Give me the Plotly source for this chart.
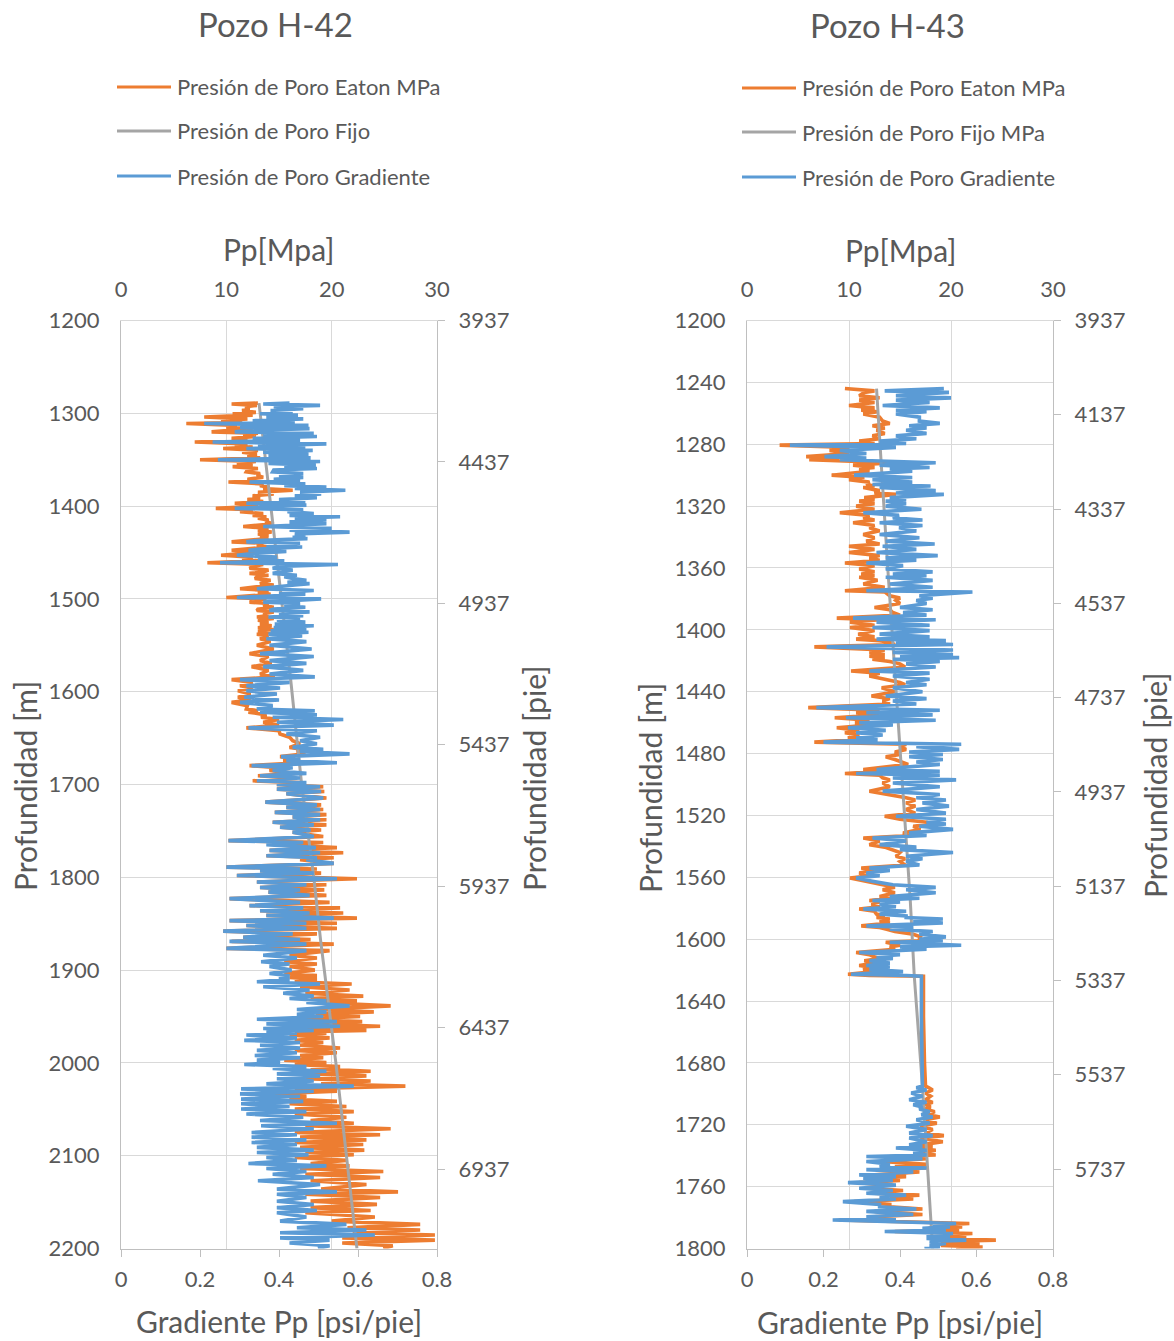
import plotly.graph_objects as go

# ---------------- Pozo H-42 (values in MPa vs depth in m) ----------------
h42_depth = [
    1289, 1290, 1291.5, 1293, 1295, 1297, 1299, 1300.5, 1302, 1304,
    1306, 1308, 1310, 1311, 1313, 1315, 1316.5, 1318.5, 1320, 1321.5,
    1323, 1325, 1327, 1329, 1331, 1333, 1335, 1336.5, 1338, 1340,
    1342, 1344, 1346, 1348, 1350, 1352, 1354, 1356, 1357.5, 1359.5,
    1361, 1363, 1365, 1367, 1369, 1371, 1373, 1374, 1376, 1378,
    1379.5, 1381, 1383, 1385, 1387, 1389, 1391, 1393, 1395, 1397,
    1399, 1401, 1402.5, 1404, 1406, 1408, 1410, 1411.5, 1413, 1415,
    1417, 1419, 1421, 1422, 1424, 1426, 1428, 1430, 1432, 1433.5,
    1435, 1437, 1438.5, 1440, 1442, 1444, 1446, 1447.5, 1449, 1451,
    1453, 1455, 1457, 1459, 1461, 1463, 1465, 1467, 1469, 1471,
    1472.5, 1474.5, 1476, 1478, 1480, 1482, 1483.5, 1485, 1487, 1489,
    1491, 1493, 1495, 1497, 1498.5, 1500, 1502, 1503.5, 1505, 1507,
    1509, 1511, 1512.5, 1514, 1516, 1518, 1519.5, 1521, 1523, 1525,
    1527, 1529, 1531, 1533, 1534.5, 1536, 1538, 1540, 1543, 1546,
    1550, 1554, 1559, 1562, 1566.5, 1569.5, 1573, 1577, 1581, 1584,
    1587, 1590, 1593.5, 1596, 1599, 1602.5, 1606, 1609, 1611.5, 1615,
    1618.7, 1620.5, 1622, 1625, 1627.6, 1630, 1633, 1636, 1639, 1642,
    1645.6, 1649, 1652.8, 1656, 1660, 1662, 1664.6, 1667, 1670, 1672,
    1674, 1676.5, 1679.7, 1682, 1685, 1688, 1690.5, 1693, 1696, 1698,
    1700, 1702.5, 1705, 1707.5, 1710, 1714.5, 1719, 1722, 1724.6, 1727,
    1730, 1732.5, 1735, 1738, 1740.7, 1743.5, 1746, 1749, 1751.5, 1756,
    1760.5, 1762.5, 1764.8, 1768, 1771, 1773.5, 1776.7, 1779, 1781, 1785,
    1789, 1791, 1793, 1795.5, 1798, 1801.5, 1805, 1808, 1811, 1813.5,
    1816, 1819.5, 1823, 1827, 1830.5, 1833, 1836, 1838.5, 1841, 1844,
    1846.7, 1849.5, 1852, 1855, 1858, 1861, 1864.6, 1867, 1869, 1872,
    1876.6, 1879, 1884, 1887, 1891, 1893.5, 1896, 1900, 1903.6, 1906,
    1908, 1910, 1912.6, 1915, 1918, 1921.5, 1925, 1928, 1930.6, 1933,
    1935, 1938.5, 1942.5, 1945, 1947.6, 1950, 1953, 1955.5, 1958, 1960.5,
    1963, 1965, 1966.7, 1968, 1970, 1973, 1975.7, 1978, 1981, 1984,
    1986.5, 1989, 1992, 1994.5, 1997, 1999.5, 2001.7, 2004, 2006, 2009,
    2011.8, 2014, 2017, 2019.5, 2022.6, 2025, 2028, 2030.5, 2033.4, 2036,
    2039, 2041.5, 2044, 2047, 2049.7, 2052.5, 2055, 2058.5, 2062, 2065,
    2067.7, 2071, 2075, 2077.5, 2080, 2083, 2085.7, 2088, 2091, 2094,
    2096.5, 2099, 2102, 2105, 2108.4, 2111, 2113.8, 2117, 2120, 2123.5,
    2127, 2131, 2136, 2139, 2141.6, 2145, 2149, 2152.5, 2156, 2159,
    2161.5, 2166, 2170.5, 2174, 2177.7, 2180, 2183, 2185.5, 2188.5, 2191,
    2194, 2197, 2200,
]
h42_eaton = [
    13.0, 10.5, 12.9, 11.8, 12.2, 11.5, 12.8, 10.6, 12.5, 7.9,
    12.0, 9.5, 11.5, 6.2, 11.0, 10.0, 12.5, 9.8, 8.6, 13.0,
    11.6, 12.8, 10.5, 12.0, 7.0, 12.0, 10.8, 12.5, 9.7, 13.0,
    11.5, 12.9, 12.0, 13.2, 7.5, 12.8, 11.0, 12.5, 10.6, 13.0,
    12.0, 11.9, 13.2, 12.9, 13.5, 12.0, 13.0, 10.2, 13.5, 13.2,
    14.0, 13.5, 16.3, 13.0, 14.5, 12.5, 13.2, 12.0, 13.5, 10.8,
    13.0, 11.5, 9.0, 12.5, 11.3, 13.5, 12.5, 13.8, 13.0, 14.0,
    13.7, 14.5, 12.5, 11.6, 14.0, 13.0, 14.3, 13.0, 14.0, 13.2,
    14.0, 12.0, 10.5, 13.5, 12.9, 14.0, 12.0, 10.5, 13.5, 11.0,
    9.5, 12.5, 11.5, 13.0, 8.2, 13.5, 12.5, 12.2, 14.0, 13.5,
    12.2, 14.0, 13.0, 12.7, 14.2, 13.5, 13.2, 14.5, 12.5, 11.3,
    14.0, 13.0, 14.2, 12.0, 10.0, 13.8, 13.0, 12.2, 14.0, 13.5,
    14.5, 13.0, 12.9, 14.5, 13.5, 14.0, 12.9, 14.5, 13.0, 14.0,
    13.2, 14.3, 13.0, 14.5, 13.0, 14.2, 12.9, 14.0, 13.2, 14.2,
    12.9, 14.5, 12.2, 14.0, 13.2, 14.3, 12.4, 14.0, 13.2, 14.6,
    10.5, 12.5, 11.3, 12.5, 11.1, 12.3, 11.1, 12.3, 10.5, 12.0,
    11.9, 13.0, 12.1, 13.8, 13.3, 15.0, 13.5, 15.0, 11.9, 15.0,
    15.1, 16.0, 16.3, 17.0, 16.0, 17.2, 16.7, 17.5, 15.1, 16.5,
    15.4, 17.0, 12.2, 15.0, 14.1, 16.5, 13.0, 16.0, 12.5, 17.0,
    14.8, 19.2, 14.8, 19.3, 15.7, 19.5, 13.7, 19.0, 15.7, 19.2,
    14.6, 19.5, 16.3, 19.5, 14.4, 19.5, 15.1, 19.0, 16.3, 19.2,
    10.2, 19.2, 14.5, 20.5, 14.1, 21.1, 13.8, 20.2, 17.0, 20.2,
    10.0, 18.6, 13.2, 19.0, 11.0, 22.4, 12.9, 19.5, 13.2, 19.3,
    14.0, 19.5, 10.3, 19.8, 12.2, 20.8, 13.2, 21.1, 13.8, 22.4,
    10.3, 20.5, 11.9, 20.5, 9.7, 18.6, 11.6, 18.0, 10.5, 20.2,
    10.0, 19.8, 16.0, 18.6, 15.5, 18.6, 16.0, 18.4, 15.5, 18.6,
    16.0, 18.6, 16.5, 21.9, 17.0, 21.7, 17.5, 23.0, 18.0, 22.4,
    19.0, 25.6, 18.5, 24.0, 18.5, 22.7, 17.0, 22.9, 18.0, 24.6,
    17.5, 23.3, 16.5, 19.5, 16.0, 19.8, 16.5, 19.2, 17.0, 20.8,
    16.5, 20.5, 17.0, 19.2, 15.5, 19.5, 16.5, 20.8, 18.0, 23.7,
    18.0, 23.3, 17.5, 23.7, 19.0, 27.0, 16.5, 20.5, 14.1, 17.6,
    16.0, 20.5, 16.0, 21.4, 16.5, 22.1, 16.5, 21.4, 18.0, 22.1,
    17.5, 25.6, 16.5, 24.6, 17.0, 23.3, 16.5, 23.0, 17.0, 23.1,
    17.5, 22.1, 16.5, 21.4, 18.0, 21.7, 17.0, 24.9, 17.5, 24.6,
    18.0, 23.3, 19.0, 26.3, 17.5, 24.6, 18.0, 24.3, 18.0, 23.7,
    17.5, 24.1, 20.0, 28.4, 21.5, 28.4, 22.0, 29.8, 21.0, 29.8,
    21.0, 25.8, 24.9,
]
h42_gradiente = [
    16.0, 13.5, 18.9, 14.5, 17.3, 14.2, 16.3, 13.2, 16.8, 13.8,
    17.3, 12.5, 16.5, 7.9, 17.8, 11.3, 17.9, 12.0, 10.8, 18.3,
    13.5, 18.6, 12.5, 17.0, 8.7, 19.5, 13.0, 17.5, 11.9, 18.2,
    13.5, 17.8, 14.0, 18.0, 9.2, 18.9, 14.0, 18.5, 15.5, 18.6,
    14.5, 14.4, 17.3, 15.0, 17.3, 14.5, 17.0, 12.2, 17.5, 15.5,
    19.5, 16.5, 21.3, 17.0, 19.0, 16.5, 18.6, 15.0, 17.5, 11.9,
    17.6, 13.0, 10.8, 17.3, 15.8, 18.3, 16.0, 20.8, 16.5, 19.5,
    16.0, 19.5, 14.5, 13.5, 20.0, 16.0, 21.7, 16.5, 17.5, 16.3,
    17.7, 13.0, 11.9, 17.0, 13.8, 17.2, 13.5, 12.1, 15.7, 12.5,
    11.0, 14.8, 13.0, 15.5, 9.4, 20.6, 15.0, 14.4, 16.3, 15.0,
    14.4, 16.7, 15.5, 16.3, 17.6, 15.8, 17.9, 16.5, 14.5, 12.9,
    18.3, 15.0, 17.5, 13.5, 11.0, 19.0, 15.0, 13.5, 17.0, 15.5,
    17.5, 14.5, 14.1, 17.9, 15.0, 17.3, 14.0, 17.0, 14.8, 17.5,
    14.6, 18.3, 14.5, 17.6, 14.2, 17.8, 14.0, 17.2, 13.8, 17.6,
    14.1, 18.1, 13.2, 18.3, 14.1, 17.6, 13.5, 17.3, 14.1, 18.4,
    11.3, 16.0, 11.9, 15.1, 11.9, 14.8, 11.7, 15.0, 11.3, 14.4,
    12.9, 18.4, 13.2, 18.6, 14.4, 21.1, 14.8, 20.2, 12.1, 18.6,
    15.7, 18.9, 17.0, 18.6, 16.3, 19.2, 17.0, 21.7, 15.2, 17.0,
    15.7, 20.5, 12.4, 16.3, 14.4, 17.6, 13.2, 17.0, 12.9, 17.6,
    14.8, 18.9, 14.8, 19.0, 15.7, 19.2, 13.7, 18.6, 15.7, 18.9,
    14.6, 18.9, 16.3, 18.9, 14.4, 18.3, 15.1, 18.0, 16.3, 18.3,
    10.2, 17.3, 13.8, 18.5, 14.1, 18.9, 13.8, 18.6, 17.6, 20.2,
    10.0, 17.0, 13.2, 18.3, 11.0, 20.5, 12.9, 17.6, 13.2, 17.0,
    14.0, 17.9, 10.3, 17.0, 12.2, 17.3, 13.2, 17.9, 13.8, 20.2,
    10.3, 17.6, 11.9, 17.6, 9.7, 16.3, 11.6, 17.0, 10.3, 17.6,
    10.0, 17.6, 13.5, 16.7, 13.3, 16.0, 14.1, 16.2, 14.1, 16.0,
    15.0, 16.0, 12.9, 18.9, 13.5, 17.9, 15.4, 18.3, 16.0, 19.5,
    17.6, 21.7, 16.7, 19.5, 16.7, 19.2, 12.9, 20.5, 13.8, 20.8,
    13.5, 18.3, 13.8, 16.7, 11.9, 16.7, 11.7, 17.0, 13.2, 17.0,
    12.9, 16.7, 12.7, 17.0, 12.9, 15.1, 11.7, 17.6, 14.4, 19.5,
    14.8, 18.9, 14.8, 18.3, 13.8, 22.1, 11.4, 18.3, 11.3, 17.0,
    11.4, 17.3, 11.4, 16.0, 11.4, 17.6, 11.9, 17.3, 13.2, 20.5,
    13.3, 18.3, 12.4, 16.7, 12.4, 17.6, 12.4, 16.7, 12.9, 18.3,
    12.9, 17.8, 13.8, 16.7, 12.1, 19.5, 13.8, 17.6, 14.4, 18.3,
    13.0, 18.9, 14.8, 20.5, 14.8, 17.6, 14.8, 18.3, 14.8, 18.6,
    14.8, 17.6, 15.1, 21.4, 16.7, 23.3, 15.1, 24.1, 15.1, 19.8,
    16.0, 19.8, 18.7,
]
h42_fijo_depth = [1289, 1458, 1537, 1586, 1700, 1800, 1868, 2000, 2100, 2200]
h42_fijo = [13.1, 14.8, 15.6, 16.1, 17.15, 18.3, 18.95, 20.4, 21.4, 22.4]

# ---------------- Pozo H-43 ----------------
h43_depth = [
    1244.0, 1245.5, 1246.5, 1248.6, 1250, 1251.5, 1253, 1255, 1256.5, 1258,
    1259, 1260.5, 1262.5, 1265, 1266.5, 1268, 1269.5, 1271, 1273, 1274.6,
    1276.5, 1278, 1279.5, 1280.6, 1282, 1284, 1286, 1288, 1289, 1290,
    1292, 1293.5, 1295, 1296, 1297.5, 1300, 1301.5, 1303, 1304.5, 1306,
    1307, 1308, 1310, 1311.5, 1312.4, 1314.5, 1316, 1316.8, 1318.5, 1320,
    1322, 1324.3, 1326, 1327.6, 1329, 1330.8, 1332.5, 1334, 1336, 1338.4,
    1340.5, 1342.7, 1344.5, 1346, 1348, 1350, 1352, 1353.5, 1355, 1356.8,
    1358.5, 1360.7, 1362.5, 1364, 1365, 1366, 1368, 1370.4, 1372.5, 1374.7,
    1375.5, 1378, 1379.5, 1381, 1383, 1385.5, 1387, 1388.8, 1390.5, 1392.4,
    1393.5, 1395, 1397, 1398.5, 1400.5, 1402.8, 1404.5, 1406, 1407, 1408,
    1409.5, 1411, 1413, 1414.7, 1416, 1417, 1418, 1419, 1420.5, 1422,
    1424, 1426.6, 1428, 1429.8, 1432, 1434, 1435.5, 1437.4, 1440, 1442.8,
    1444.5, 1446, 1448, 1450.3, 1452, 1453.6, 1455, 1456.8, 1458.5, 1460,
    1461.5, 1463.3, 1465, 1466.5, 1468, 1469.8, 1471, 1472.6, 1474, 1475.5,
    1477.3, 1479, 1480.6, 1482, 1483.8, 1485.5, 1487, 1490.3, 1491.5, 1492.9,
    1494, 1495.7, 1497, 1499, 1501.5, 1504.3, 1506.5, 1508.6, 1510, 1511.9,
    1514, 1516.2, 1518.5, 1520.5, 1522.5, 1524.4, 1525.5, 1527, 1529, 1531.3,
    1533, 1534.6, 1536.5, 1538.9, 1540.5, 1542.1, 1544, 1546.4, 1548, 1549.7,
    1552, 1554, 1555.5, 1557.2, 1559, 1560.5, 1562.5, 1564.8, 1566.5, 1568,
    1570, 1572.4, 1573.5, 1575, 1576, 1577.3, 1579, 1580.5, 1582, 1583.8,
    1585, 1586, 1587, 1588, 1589.5, 1591.4, 1592.5, 1593.5, 1595, 1596.8,
    1598.5, 1600, 1601, 1602, 1603.9, 1605, 1606.5, 1608.6, 1610, 1611,
    1612.5, 1614, 1615.5, 1617, 1618, 1619.5, 1621, 1622.7, 1623.5, 1624,
    1650, 1680, 1695, 1696, 1697.5, 1699.5, 1701.5, 1703.8, 1705.5, 1707,
    1708.5, 1709.8, 1711.5, 1713.5, 1715, 1716.8, 1719, 1721, 1723, 1725.4,
    1727, 1728.6, 1731, 1733, 1734, 1735, 1736.5, 1738.4, 1739.5, 1740.5,
    1742, 1743.8, 1745.5, 1747, 1748, 1749, 1750.5, 1752.4, 1753.5, 1754.6,
    1756, 1757.4, 1759, 1761, 1762.5, 1764.3, 1765.5, 1766.5, 1768, 1769.7,
    1771.5, 1773, 1774.5, 1776, 1778, 1779.5, 1780.5, 1781.6, 1783.8, 1785,
    1786, 1787, 1788, 1789, 1790.3, 1791.5, 1792.4, 1793.5, 1794.6, 1795.5,
    1796.8, 1798, 1799, 1800,
]
h43_eaton = [
    9.6, 12.5, 11.5, 11.0, 13.0, 11.0, 12.5, 10.0, 12.5, 11.2,
    12.8, 11.4, 13.0, 13.3, 14.0, 12.3, 13.5, 12.7, 13.5, 12.3,
    13.0, 11.0, 12.5, 3.2, 10.0, 8.1, 10.0, 5.8, 9.0, 6.1,
    14.3, 10.4, 12.5, 11.0, 12.0, 8.3, 11.5, 10.0, 12.0, 11.7,
    12.5, 11.4, 13.0, 12.5, 14.6, 11.5, 12.5, 11.0, 12.5, 10.7,
    12.5, 9.1, 12.0, 11.4, 12.5, 10.4, 12.5, 12.0, 13.0, 11.4,
    12.5, 11.7, 13.0, 10.0, 12.5, 10.0, 13.0, 12.0, 13.0, 9.6,
    12.5, 11.0, 12.5, 11.2, 12.5, 11.0, 12.8, 11.4, 13.5, 9.6,
    13.5, 14.0, 15.0, 14.6, 15.0, 12.5, 14.0, 14.3, 15.0, 8.8,
    13.0, 10.1, 12.5, 10.1, 12.5, 10.9, 12.5, 10.7, 13.0, 14.0,
    14.5, 6.6, 13.5, 12.0, 13.5, 12.0, 13.5, 12.3, 14.0, 15.0,
    15.5, 10.2, 13.0, 12.0, 13.5, 15.0, 15.5, 13.2, 14.5, 12.2,
    14.0, 13.3, 14.0, 6.0, 13.0, 10.7, 13.0, 8.6, 12.0, 10.6,
    12.0, 8.8, 11.0, 9.6, 11.0, 9.9, 11.0, 6.6, 15.6, 15.0,
    15.6, 14.5, 15.0, 13.6, 14.5, 15.3, 15.8, 11.4, 13.0, 9.6,
    13.0, 13.3, 14.0, 13.3, 14.0, 12.0, 14.0, 15.6, 16.5, 15.6,
    16.5, 15.6, 16.5, 13.5, 15.0, 17.6, 18.0, 16.3, 17.0, 15.3,
    16.0, 11.4, 13.0, 12.0, 13.5, 14.3, 15.0, 14.6, 15.5, 15.0,
    15.5, 11.2, 12.5, 11.0, 12.0, 10.1, 11.5, 13.3, 14.5, 13.3,
    14.5, 13.0, 14.0, 12.0, 13.0, 12.2, 13.0, 11.0, 12.5, 12.7,
    13.5, 12.7, 14.0, 13.0, 14.0, 11.2, 13.0, 13.6, 14.5, 16.3,
    17.0, 16.9, 17.0, 13.6, 15.0, 14.0, 14.5, 10.7, 12.0, 12.3,
    13.0, 11.5, 12.5, 11.0, 12.0, 11.4, 12.5, 9.9, 12.0, 17.3,
    17.3, 17.4, 17.5, 17.8, 18.2, 17.5, 18.0, 17.5, 18.2, 17.5,
    18.0, 17.5, 18.4, 17.8, 18.9, 17.5, 18.6, 17.0, 18.2, 17.5,
    19.3, 17.0, 19.2, 17.0, 18.2, 16.5, 18.5, 17.0, 18.5, 14.0,
    17.6, 13.5, 17.6, 14.5, 17.6, 14.0, 16.9, 12.5, 15.6, 12.5,
    15.0, 11.0, 13.6, 12.0, 15.3, 12.5, 16.9, 14.0, 16.3, 10.5,
    14.0, 14.0, 17.2, 12.5, 17.2, 12.5, 14.6, 9.0, 21.8, 18.5,
    21.1, 17.8, 20.8, 14.5, 22.1, 18.5, 21.5, 18.5, 24.4, 19.0,
    22.8, 19.0, 23.1, 20.5,
]
h43_gradiente = [
    19.3, 13.5, 19.8, 14.6, 20.0, 14.6, 17.9, 13.3, 18.9, 14.6,
    17.6, 14.6, 16.9, 16.9, 18.9, 15.9, 17.6, 15.6, 17.6, 14.6,
    16.6, 13.0, 15.6, 4.2, 14.6, 9.1, 11.7, 7.6, 11.7, 9.1,
    18.5, 13.0, 17.9, 14.0, 16.2, 10.5, 16.2, 12.3, 16.2, 12.3,
    18.0, 13.0, 18.5, 14.6, 19.3, 14.0, 15.6, 13.6, 15.6, 13.6,
    17.1, 11.4, 14.9, 14.3, 17.2, 13.0, 17.2, 14.9, 16.6, 13.0,
    16.9, 13.6, 18.4, 13.3, 16.6, 12.7, 18.7, 13.6, 16.6, 11.7,
    15.3, 13.6, 18.2, 14.3, 17.6, 13.6, 18.2, 14.0, 18.2, 11.7,
    22.1, 16.9, 18.2, 16.6, 17.6, 15.0, 18.2, 15.3, 17.6, 10.4,
    18.5, 12.7, 17.9, 12.3, 17.9, 13.0, 17.9, 12.7, 19.5, 14.6,
    20.2, 7.8, 20.2, 14.3, 20.2, 15.0, 20.8, 14.3, 18.9, 15.6,
    18.5, 12.0, 17.9, 14.3, 17.9, 15.6, 17.6, 14.3, 17.2, 13.6,
    17.6, 14.3, 16.6, 6.8, 18.9, 11.7, 18.2, 9.7, 18.5, 11.0,
    14.3, 9.9, 13.6, 10.7, 13.3, 10.7, 12.8, 7.5, 21.0, 16.6,
    20.8, 15.9, 19.2, 15.9, 19.2, 16.6, 18.9, 12.7, 18.9, 10.7,
    18.9, 14.3, 20.5, 14.3, 18.9, 13.3, 18.9, 16.6, 19.5, 17.2,
    19.8, 16.6, 19.5, 14.6, 19.5, 17.6, 19.5, 16.9, 20.2, 15.9,
    17.6, 12.3, 15.6, 13.0, 16.6, 15.0, 20.2, 15.6, 17.2, 15.6,
    16.9, 12.0, 14.0, 11.7, 13.0, 10.7, 12.3, 14.3, 18.5, 15.6,
    18.5, 14.0, 16.9, 12.3, 15.0, 13.0, 14.6, 11.4, 15.6, 13.0,
    15.6, 15.6, 19.2, 16.3, 19.2, 11.7, 16.3, 14.0, 18.2, 16.9,
    19.5, 16.9, 19.2, 14.0, 21.0, 15.0, 17.6, 11.0, 15.0, 12.7,
    14.3, 12.0, 14.0, 11.7, 14.0, 12.0, 15.3, 10.2, 15.6, 17.1,
    17.1, 17.2, 17.2, 16.6, 17.6, 16.1, 17.2, 15.9, 17.6, 16.3,
    17.2, 16.9, 17.9, 17.1, 18.2, 16.6, 17.9, 15.6, 17.6, 15.9,
    18.2, 15.9, 17.6, 15.9, 17.2, 14.6, 17.6, 16.3, 17.6, 11.7,
    17.2, 11.7, 14.0, 13.0, 17.6, 11.7, 16.3, 11.0, 14.6, 11.4,
    14.3, 9.9, 14.6, 11.0, 14.3, 11.7, 15.6, 13.0, 14.6, 9.4,
    13.0, 13.0, 16.6, 11.7, 16.3, 11.7, 14.6, 8.4, 20.5, 18.2,
    19.9, 17.2, 19.5, 13.5, 20.2, 17.6, 19.9, 17.6, 21.5, 17.9,
    19.5, 17.9, 18.9, 17.4,
]
h43_fijo_depth = [1244, 1360, 1574, 1624, 1695, 1782, 1800]
h43_fijo = [12.7, 13.8, 16.0, 16.4, 17.2, 18.0, 18.2]

# Axis scales
mpa_range = [0, 30]
mpa_ticks = [0, 10, 20, 30]
grad_range = [0, 0.8]
grad_ticks = [0, 0.2, 0.4, 0.6, 0.8]
grad_ticktext = ["0", "0.2", "0.4", "0.6", "0.8"]
h42_depth_range = [2200, 1200]
h43_depth_range = [1800, 1200]
h42_ft_ticks = [3937, 4437, 4937, 5437, 5937, 6437, 6937]
h43_ft_ticks = [3937, 4137, 4337, 4537, 4737, 4937, 5137, 5337, 5537, 5737]
M_TO_FT = 3.28084

series_names = ["Presión de Poro Eaton MPa", "Presión de Poro Fijo", "Presión de Poro Gradiente"]
series_names_h43 = ["Presión de Poro Eaton MPa", "Presión de Poro Fijo MPa", "Presión de Poro Gradiente"]

ORANGE = "#ED7D31"
GREY = "#A5A5A5"
BLUE = "#5B9BD5"
TEXT = "#595959"
GRID = "#D9D9D9"
AXIS = "#BFBFBF"
FONT = "Lato"

W, H = 1174, 1341


def px(x):
    return x / W


def py(y):
    return 1 - y / H


fig = go.Figure()


def add_well(depth, eaton, gradiente, fijo_depth, fijo, names, xa, ya, xa_alt, ya_alt, depth_range):
    fig.add_trace(go.Scatter(x=eaton, y=depth, mode="lines", name=names[0],
                             line=dict(color=ORANGE, width=3.6), xaxis=xa, yaxis=ya))
    fig.add_trace(go.Scatter(x=fijo, y=fijo_depth, mode="lines", name=names[1],
                             line=dict(color=GREY, width=3), xaxis=xa, yaxis=ya))
    fig.add_trace(go.Scatter(x=gradiente, y=depth, mode="lines", name=names[2],
                             line=dict(color=BLUE, width=3.6), xaxis=xa, yaxis=ya))
    # transparent helper so the psi/pie and pie axes are laid out
    fig.add_trace(go.Scatter(x=grad_range, y=[d * M_TO_FT for d in depth_range], mode="markers",
                             marker=dict(opacity=0, size=1), hoverinfo="skip",
                             xaxis=xa_alt, yaxis=ya_alt))


add_well(h42_depth, h42_eaton, h42_gradiente, h42_fijo_depth, h42_fijo, series_names,
         "x", "y", "x2", "y2", h42_depth_range)
add_well(h43_depth, h43_eaton, h43_gradiente, h43_fijo_depth, h43_fijo, series_names_h43,
         "x3", "y3", "x4", "y4", h43_depth_range)

tickfont = dict(family=FONT, size=22, color=TEXT)

dom_y = [py(1248.5), py(320.5)]
dom_42 = [px(121), px(437)]
dom_43 = [px(747), px(1053)]


def top_axis(domain, anchor):
    # Pp [MPa] scale, carries the vertical gridlines
    return dict(domain=domain, anchor=anchor, side="top", range=mpa_range, tickvals=mpa_ticks,
                showgrid=True, gridcolor=GRID, gridwidth=1.3, zeroline=False,
                showline=True, linecolor=GRID, linewidth=1.3, ticks="",
                tickfont=tickfont, ticklabelstandoff=14, automargin=False, fixedrange=True)


def bottom_axis(overlay, anchor):
    # Gradiente Pp [psi/pie] scale
    return dict(overlaying=overlay, anchor=anchor, side="bottom", range=grad_range,
                tickvals=grad_ticks, ticktext=grad_ticktext,
                showgrid=False, zeroline=False, showline=True, linecolor=AXIS, linewidth=1.3,
                ticks="outside", ticklen=7, tickcolor=AXIS, tickwidth=1.3,
                tickfont=tickfont, ticklabelstandoff=4, automargin=False, fixedrange=True)


def left_axis(domain, anchor, rng, dtick):
    return dict(domain=domain, anchor=anchor, range=rng, tick0=1200, dtick=dtick,
                showgrid=True, gridcolor=GRID, gridwidth=1.3, zeroline=False,
                showline=True, linecolor=AXIS, linewidth=1.3, ticks="",
                tickfont=tickfont, ticklabelstandoff=16, automargin=False, fixedrange=True)


def right_axis(overlay, anchor, rng, tickvals):
    return dict(overlaying=overlay, anchor=anchor, side="right",
                range=[d * M_TO_FT for d in rng], tickvals=tickvals,
                showgrid=False, zeroline=False, showline=True, linecolor=AXIS, linewidth=1.3,
                ticks="outside", ticklen=7, tickcolor=AXIS, tickwidth=1.3,
                tickfont=tickfont, ticklabelstandoff=9, automargin=False, fixedrange=True)


fig.update_layout(
    width=W, height=H,
    margin=dict(l=0, r=0, t=0, b=0, autoexpand=False),
    paper_bgcolor="white", plot_bgcolor="white",
    font=dict(family=FONT, color=TEXT),
    showlegend=False,
    xaxis=top_axis(dom_42, "y"),
    xaxis2=bottom_axis("x", "y"),
    yaxis=left_axis(dom_y, "x", h42_depth_range, 100),
    yaxis2=right_axis("y", "x", h42_depth_range, h42_ft_ticks),
    xaxis3=top_axis(dom_43, "y3"),
    xaxis4=bottom_axis("x3", "y3"),
    yaxis3=left_axis(dom_y, "x3", h43_depth_range, 40),
    yaxis4=right_axis("y3", "x3", h43_depth_range, h43_ft_ticks),
)

annotations = []
shapes = []


def text(x, y, s, size, angle=0, xanchor="center"):
    annotations.append(dict(x=px(x), y=py(y), xref="paper", yref="paper", text=s,
                            showarrow=False, xanchor=xanchor, yanchor="middle",
                            textangle=angle, font=dict(family=FONT, size=size, color=TEXT)))


# Titles
text(275, 24, "Pozo H-42", 33)
text(887, 25, "Pozo H-43", 33)

# Axis titles
text(278, 249, "Pp[Mpa]", 30)
text(900, 250, "Pp[Mpa]", 30)
text(279, 1321, "Gradiente Pp [psi/pie]", 30)
text(900, 1322, "Gradiente Pp [psi/pie]", 30)
text(25, 786, "Profundidad [m]", 30, angle=-90)
text(650, 788, "Profundidad [m]", 30, angle=-90)
text(534, 779, "Profundidad [pie]", 30, angle=-90)
text(1155, 786, "Profundidad [pie]", 30, angle=-90)

# Legends
legend_colors = [ORANGE, GREY, BLUE]
for (x0, rows, names) in [(117, [87, 131, 176], series_names),
                          (742, [88, 132, 177], series_names_h43)]:
    for yy, c, n in zip(rows, legend_colors, names):
        shapes.append(dict(type="line", xref="paper", yref="paper",
                           x0=px(x0), x1=px(x0 + 54), y0=py(yy), y1=py(yy),
                           line=dict(color=c, width=3)))
        text(x0 + 58, yy, n, 22, xanchor="left")

fig.update_layout(annotations=annotations, shapes=shapes)

fig.write_html("out.html")
